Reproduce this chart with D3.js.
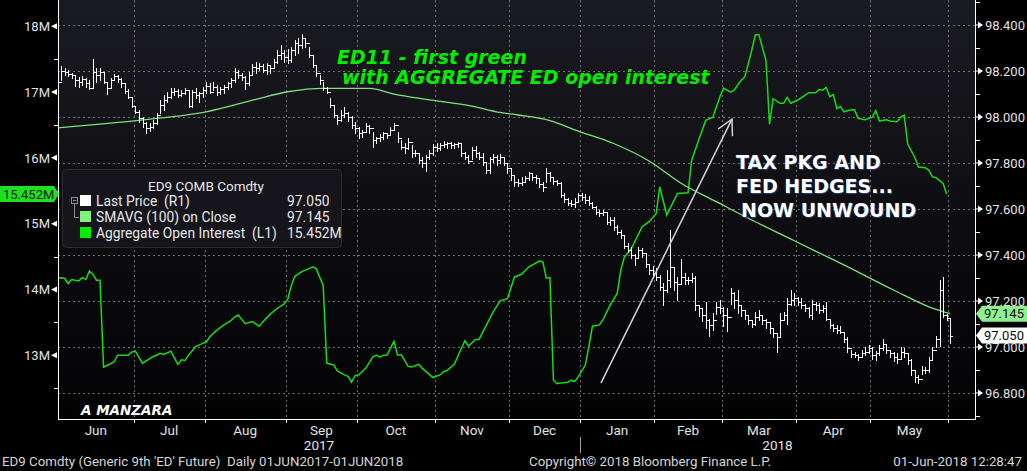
<!DOCTYPE html>
<html>
<head>
<meta charset="utf-8">
<script src="https://cdn.jsdelivr.net/npm/d3@7/dist/d3.min.js"></script>
<style>
  html, body { margin: 0; padding: 0; background: #000; }
  svg { display: block; font-family: Roboto, "Noto Sans", sans-serif; }
  text { white-space: pre; }
</style>
</head>
<body>
<svg id="chart" width="1027" height="471"></svg>
<script>
// trading days are numbered from 01JUN2017 (day 0) to 01JUN2018 (day 252)
var monthStart = [0, 22, 42, 65, 85, 107, 128, 148, 169, 188, 209, 230, 252];
var monthLabel = ["Jun", "Jul", "Aug", "Sep", "Oct", "Nov", "Dec", "Jan", "Feb", "Mar", "Apr", "May", "Jun"];
var yearStart = [0, 148];
var yearLabel = ["2017", "2018"];

// ED9 daily bars (R1), one value per trading day, month by month
var priceHigh = [
  98.164,98.222,98.212,98.204,98.193,98.183,98.173,98.178,98.168,98.161,98.251,98.212,98.212,98.193,98.146,98.168,98.187,98.183,98.168,98.149,98.120,98.088,
  98.048,98.030,98.001,97.980,97.972,97.987,98.016,98.074,98.096,98.110,98.125,98.125,98.120,98.117,98.125,98.117,98.117,98.125,98.110,98.129,
  98.154,98.149,98.154,98.139,98.129,98.139,98.154,98.168,98.212,98.204,98.193,98.178,98.197,98.231,98.241,98.236,98.231,98.236,98.226,98.251,98.291,98.313,98.291,
  98.294,98.306,98.335,98.342,98.361,98.342,98.306,98.265,98.226,98.183,98.154,98.129,98.081,98.048,98.009,98.030,98.042,98.023,98.004,97.980,
  97.955,97.943,97.972,97.965,97.936,97.914,97.926,97.936,97.929,97.958,97.972,97.936,97.900,97.885,97.911,97.878,97.856,97.845,97.827,97.835,97.856,97.883,
  97.885,97.888,97.897,97.893,97.893,97.888,97.893,97.885,97.849,97.835,97.871,97.874,97.849,97.842,97.801,97.827,97.839,97.835,97.839,97.827,97.798,
  97.777,97.748,97.729,97.740,97.743,97.762,97.755,97.748,97.733,97.719,97.777,97.762,97.740,97.726,97.719,97.668,97.646,97.639,97.646,97.671,
  97.671,97.665,97.656,97.632,97.613,97.598,97.596,97.588,97.564,97.566,97.530,97.511,97.487,97.453,97.433,97.404,97.433,97.429,97.410,97.363,97.352,
  97.342,97.313,97.279,97.337,97.509,97.349,97.305,97.381,97.320,97.305,97.320,97.308,97.182,97.168,97.197,97.124,97.146,97.197,97.204,
  97.175,97.168,97.255,97.240,97.247,97.182,97.158,97.139,97.117,97.153,97.160,97.139,97.124,97.105,97.081,97.059,97.146,97.153,97.211,97.247,97.233,
  97.218,97.211,97.189,97.172,97.204,97.197,97.193,97.182,97.197,97.117,97.102,97.095,97.091,97.066,97.042,96.986,96.979,96.969,96.986,96.998,97.008,
  96.998,96.984,97.008,97.033,97.008,96.989,96.979,96.972,97.001,96.994,96.969,96.946,96.899,96.878,96.917,96.914,96.958,97.001,97.050,97.291,97.303,97.143,
  97.120
];
var priceLow = [
  98.125,98.161,98.183,98.178,98.168,98.135,98.129,98.139,98.129,98.120,98.129,98.154,98.161,98.146,98.100,98.125,98.161,98.154,98.132,98.103,98.081,98.045,
  98.016,97.980,97.958,97.932,97.941,97.951,97.970,98.016,98.030,98.067,98.081,98.096,98.088,98.091,98.100,98.045,98.045,98.081,98.067,98.088,
  98.103,98.103,98.117,98.096,98.100,98.103,98.120,98.129,98.154,98.168,98.161,98.120,98.139,98.183,98.193,98.204,98.197,98.187,98.193,98.212,98.236,98.251,98.241,
  98.233,98.241,98.270,98.280,98.299,98.303,98.260,98.219,98.178,98.144,98.117,98.103,98.042,97.999,97.970,97.984,97.999,97.984,97.951,97.932,
  97.907,97.914,97.941,97.929,97.871,97.888,97.897,97.903,97.907,97.922,97.946,97.893,97.859,97.842,97.859,97.827,97.830,97.799,97.784,97.767,97.816,97.835,
  97.854,97.856,97.868,97.864,97.864,97.864,97.868,97.830,97.816,97.799,97.816,97.827,97.816,97.791,97.758,97.755,97.806,97.791,97.801,97.791,97.755,
  97.726,97.700,97.700,97.704,97.719,97.726,97.726,97.714,97.694,97.680,97.719,97.723,97.711,97.703,97.654,97.632,97.617,97.613,97.610,97.632,
  97.639,97.627,97.617,97.603,97.578,97.569,97.574,97.535,97.530,97.509,97.491,97.472,97.429,97.414,97.385,97.356,97.385,97.390,97.349,97.317,97.303,
  97.291,97.248,97.182,97.240,97.259,97.248,97.204,97.276,97.274,97.274,97.284,97.161,97.134,97.114,97.081,97.047,97.074,97.143,97.146,
  97.091,97.071,97.189,97.168,97.146,97.134,97.120,97.100,97.088,97.095,97.117,97.102,97.081,97.059,97.042,96.979,97.044,97.117,97.102,97.182,97.182,
  97.182,97.168,97.158,97.129,97.124,97.163,97.146,97.153,97.117,97.081,97.071,97.059,97.062,97.023,96.979,96.957,96.955,96.943,96.957,96.965,96.975,
  96.950,96.943,96.965,96.989,96.972,96.955,96.940,96.931,96.946,96.957,96.928,96.878,96.849,96.842,96.882,96.885,96.892,96.950,97.000,97.004,97.132,97.117,
  97.016
];
var priceClose = [
  98.154,98.202,98.197,98.187,98.183,98.161,98.154,98.164,98.146,98.125,98.197,98.183,98.197,98.154,98.125,98.161,98.178,98.164,98.146,98.115,98.088,98.048,
  98.023,97.994,97.972,97.951,97.958,97.972,98.009,98.052,98.074,98.088,98.110,98.115,98.096,98.103,98.117,98.048,98.110,98.096,98.103,98.117,
  98.135,98.110,98.132,98.110,98.120,98.129,98.146,98.161,98.197,98.183,98.173,98.146,98.183,98.219,98.212,98.222,98.204,98.226,98.212,98.241,98.270,98.277,98.260,
  98.248,98.291,98.321,98.313,98.342,98.321,98.270,98.226,98.190,98.161,98.125,98.110,98.052,98.009,97.987,98.009,98.016,98.001,97.965,97.951,
  97.929,97.936,97.961,97.951,97.900,97.907,97.914,97.929,97.922,97.943,97.965,97.907,97.871,97.864,97.893,97.842,97.845,97.813,97.799,97.827,97.845,97.871,
  97.864,97.878,97.883,97.885,97.878,97.883,97.885,97.842,97.827,97.810,97.856,97.842,97.827,97.806,97.769,97.816,97.827,97.813,97.827,97.801,97.777,
  97.748,97.719,97.714,97.719,97.733,97.755,97.740,97.733,97.711,97.697,97.755,97.740,97.723,97.714,97.661,97.642,97.627,97.624,97.632,97.661,
  97.654,97.639,97.627,97.610,97.588,97.581,97.588,97.545,97.552,97.523,97.501,97.487,97.439,97.424,97.400,97.385,97.421,97.407,97.361,97.334,97.320,
  97.305,97.262,97.248,97.291,97.349,97.284,97.276,97.305,97.291,97.291,97.298,97.182,97.168,97.139,97.117,97.095,97.117,97.175,97.168,
  97.139,97.131,97.233,97.204,97.182,97.160,97.139,97.117,97.100,97.131,97.139,97.117,97.110,97.081,97.059,97.044,97.117,97.139,97.189,97.204,97.211,
  97.197,97.182,97.168,97.139,97.189,97.182,97.160,97.168,97.124,97.095,97.081,97.073,97.066,97.037,96.994,96.969,96.965,96.957,96.975,96.979,96.994,
  96.965,96.972,96.994,97.015,96.986,96.972,96.957,96.950,96.979,96.972,96.943,96.899,96.870,96.863,96.899,96.899,96.943,96.986,97.035,97.248,97.139,97.125,
  97.050
];

// SMAVG (100) on close (R1): [trading day, value]
var smaPoints = [
  [0,97.953],[28,97.994],[42,98.023],[56,98.077],[65,98.110],[75,98.125],[88,98.125],[95,98.100],
  [104,98.077],[117,98.048],[125,98.020],[130,98.009],[139,97.985],[147,97.939],[157,97.885],
  [167,97.809],[176,97.712],[186,97.632],[195,97.560],[208,97.462],[222,97.357],[236,97.248],
  [246,97.175],[252,97.145]
];

// Aggregate open interest in millions (L1): [trading day, value]
var openInterest = [
  [0,14.18],[2,14.17],[3,14.09],[4,14.15],[6,14.13],[7,14.18],[8,14.15],[9,14.28],[10,14.23],[11,14.14],[12,14.14],
  [13,12.82],[15,12.87],[16,12.90],[17,13.00],[20,13.00],[21,13.05],[22,13.06],[24,12.88],[27,12.98],[28,13.00],
  [29,13.03],[30,13.01],[32,13.06],[33,12.96],[34,12.86],[35,12.93],[36,12.92],[37,13.00],[39,13.13],[41,13.18],
  [42,13.20],[43,13.28],[45,13.38],[47,13.46],[49,13.53],[50,13.58],[51,13.61],[53,13.48],[55,13.51],[57,13.44],
  [58,13.51],[60,13.62],[62,13.71],[64,13.78],[65,13.85],[66,14.06],[67,14.20],[69,14.27],[72,14.34],[73,14.32],
  [75,14.06],[76,12.88],[78,12.85],[79,12.76],[81,12.70],[82,12.68],[83,12.59],[84,12.69],[85,12.70],[87,12.80],
  [89,12.97],[90,13.00],[91,12.97],[92,13.00],[93,13.00],[95,13.21],[96,13.00],[97,13.01],[99,12.83],[100,12.82],
  [102,12.86],[103,12.80],[106,12.66],[108,12.70],[109,12.75],[110,12.77],[112,12.86],[115,13.22],[116,13.14],
  [118,13.24],[119,13.24],[123,13.66],[125,13.83],[127,13.86],[129,14.19],[131,14.23],[133,14.34],[136,14.43],
  [137,14.42],[138,14.17],[139,14.18],[140,12.62],[141,12.57],[144,12.59],[145,12.62],[146,12.60],[147,12.67],
  [149,12.85],[150,13.13],[151,13.44],[153,13.46],[154,13.54],[156,13.76],[158,13.94],[159,14.29],[160,14.49],
  [162,14.62],[165,14.95],[167,15.03],[169,15.15],[170,15.56],[172,15.13],[175,15.46],[178,15.47],[179,15.96],
  [181,16.27],[183,16.57],[185,16.62],[187,16.93],[188,17.06],[190,17.00],[191,17.03],[193,17.18],[194,17.23],
  [195,17.43],[196,17.64],[197,17.87],[198,17.87],[200,17.48],[201,16.51],[202,16.90],[204,16.83],[205,16.83],
  [206,16.92],[207,16.83],[209,16.88],[211,16.95],[212,16.99],[214,16.99],[215,17.04],[216,17.03],[217,17.07],
  [218,16.93],[219,16.96],[220,16.75],[221,16.78],[222,16.70],[224,16.73],[225,16.73],[226,16.60],[228,16.58],
  [230,16.62],[231,16.72],[232,16.56],[234,16.58],[235,16.56],[237,16.55],[238,16.62],[239,16.65],[240,16.21],
  [242,16.01],[243,15.86],[245,15.85],[246,15.81],[247,15.71],[248,15.70],[250,15.61],[251,15.452]
];

var leftTicks = [13, 14, 15, 16, 17, 18];
var rightTicks = [96.8, 97.0, 97.2, 97.4, 97.6, 97.8, 98.0, 98.2, 98.4];

// hand drawn arrow: [trading day, price]
var arrowFrom = [153.4, 96.843];
var arrowTo = [190.4, 97.991];

var plot = { left: 58, right: 975, top: 0, bottom: 419 };
var svg = d3.select("#chart");

var x = d3.scaleLinear().domain([0, 259]).range([57.5, 975]);
var yL = d3.scaleLinear().domain([12.03, 18.4]).range([plot.bottom, plot.top]);
var yR = d3.scaleLinear().domain([96.687, 98.509]).range([plot.bottom, plot.top]);

var defs = svg.append("defs");
var grad = defs.append("linearGradient").attr("id", "bg").attr("x1", 0).attr("y1", 0).attr("x2", 0).attr("y2", 1);
grad.append("stop").attr("offset", "0%").attr("stop-color", "#1a1a21");
grad.append("stop").attr("offset", "100%").attr("stop-color", "#020203");
defs.append("clipPath").attr("id", "clip").append("rect")
  .attr("x", plot.left).attr("y", plot.top)
  .attr("width", plot.right - plot.left).attr("height", plot.bottom - plot.top);
defs.append("marker").attr("id", "head").attr("viewBox", "-18 -10 20 20")
  .attr("markerWidth", 20).attr("markerHeight", 20).attr("markerUnits", "userSpaceOnUse")
  .attr("orient", "auto")
  .append("path").attr("d", "M-15,-8L0,0L-15,8").attr("fill", "none")
  .attr("stroke", "#d4d4d4").attr("stroke-width", 1.5);

svg.append("rect").attr("x", plot.left).attr("y", plot.top)
  .attr("width", plot.right - plot.left).attr("height", plot.bottom - plot.top)
  .attr("fill", "url(#bg)");

// grid
var grid = svg.append("g").attr("stroke", "#707070").attr("stroke-width", 1)
  .attr("stroke-dasharray", "2,3").attr("shape-rendering", "crispEdges");
grid.selectAll(".h").data(rightTicks).join("line").attr("class", "h")
  .attr("x1", plot.left).attr("x2", plot.right)
  .attr("y1", function(d) { return Math.round(yR(d)) + 0.5; })
  .attr("y2", function(d) { return Math.round(yR(d)) + 0.5; });
grid.selectAll(".v").data(monthStart.slice(1)).join("line").attr("class", "v")
  .attr("y1", plot.top).attr("y2", plot.bottom)
  .attr("x1", function(d) { return Math.round(x(d - 0.5)) + 0.5; })
  .attr("x2", function(d) { return Math.round(x(d - 0.5)) + 0.5; });

var clipped = svg.append("g").attr("clip-path", "url(#clip)");

// open interest
clipped.append("path").datum(openInterest)
  .attr("fill", "none").attr("stroke", "#16dc16").attr("stroke-width", 1.5)
  .attr("d", d3.line().x(function(d) { return x(d[0]); }).y(function(d) { return yL(d[1]); }));

// moving average
clipped.append("path").datum(smaPoints)
  .attr("fill", "none").attr("stroke", "#7ee07e").attr("stroke-width", 1.3)
  .attr("d", d3.line().curve(d3.curveMonotoneX).x(function(d) { return x(d[0]); }).y(function(d) { return yR(d[1]); }));

// price bars
var bars = clipped.append("g").attr("stroke", "#fff").attr("stroke-width", 1).attr("shape-rendering", "crispEdges");
var days = d3.range(priceClose.length);
function bx(i) { return Math.round(x(i)) + 0.5; }
bars.selectAll(".hl").data(days).join("line").attr("class", "hl")
  .attr("x1", bx).attr("x2", bx)
  .attr("y1", function(i) { return Math.round(yR(priceHigh[i])); })
  .attr("y2", function(i) { return Math.round(yR(priceLow[i])) + 1; });
bars.selectAll(".op").data(days.slice(1)).join("line").attr("class", "op")
  .attr("x1", function(i) { return bx(i) - 2; }).attr("x2", bx)
  .attr("y1", function(i) { return Math.round(yR(priceClose[i - 1])) + 0.5; })
  .attr("y2", function(i) { return Math.round(yR(priceClose[i - 1])) + 0.5; });
bars.selectAll(".cl").data(days).join("line").attr("class", "cl")
  .attr("x1", bx).attr("x2", function(i) { return bx(i) + 2; })
  .attr("y1", function(i) { return Math.round(yR(priceClose[i])) + 0.5; })
  .attr("y2", function(i) { return Math.round(yR(priceClose[i])) + 0.5; });

// axes
var ax = svg.append("g").attr("stroke", "#fff").attr("stroke-width", 1).attr("shape-rendering", "crispEdges");
ax.append("line").attr("x1", plot.left + 0.5).attr("x2", plot.left + 0.5).attr("y1", plot.top).attr("y2", plot.bottom + 1);
ax.append("line").attr("x1", plot.right + 0.5).attr("x2", plot.right + 0.5).attr("y1", plot.top).attr("y2", plot.bottom + 1);
ax.append("line").attr("x1", plot.left).attr("x2", plot.right + 1).attr("y1", plot.bottom + 0.5).attr("y2", plot.bottom + 0.5);

var leftMinor = d3.range(12.5, 18.5, 0.5).filter(function(v) { return v % 1 !== 0; });
ax.selectAll(".lm").data(leftMinor).join("line").attr("class", "lm")
  .attr("x1", plot.left - 4).attr("x2", plot.left)
  .attr("y1", function(d) { return Math.round(yL(d)) + 0.5; })
  .attr("y2", function(d) { return Math.round(yL(d)) + 0.5; });
var rightMinor = d3.range(96.7, 98.55, 0.2);
ax.selectAll(".rm").data(rightMinor).join("line").attr("class", "rm")
  .attr("x1", plot.right).attr("x2", plot.right + 5)
  .attr("y1", function(d) { return Math.round(yR(d)) + 0.5; })
  .attr("y2", function(d) { return Math.round(yR(d)) + 0.5; });
ax.selectAll(".bt").data(monthStart.slice(1)).join("line").attr("class", "bt")
  .attr("y1", plot.bottom).attr("y2", plot.bottom + 4)
  .attr("x1", function(d) { return Math.round(x(d - 0.5)) + 0.5; })
  .attr("x2", function(d) { return Math.round(x(d - 0.5)) + 0.5; });

// tick arrows
svg.append("g").attr("fill", "#fff").selectAll("path").data(leftTicks).join("path")
  .attr("d", function(d) { var y = yL(d); return "M51," + y + "L57," + (y - 3) + "L57," + (y + 3) + "Z"; });
svg.append("g").attr("fill", "#fff").selectAll("path").data(rightTicks).join("path")
  .attr("d", function(d) { var y = yR(d); return "M976," + (y - 0.5) + "L978," + (y - 0.5) + "L978," + (y - 3.5) + "L983," + y + "L978," + (y + 3.5) + "L978," + (y + 0.5) + "L976," + (y + 0.5) + "Z"; });

var labelColor = "#e2e2e2";
svg.append("g").attr("fill", labelColor).attr("font-size", 13).attr("text-anchor", "end")
  .selectAll("text").data(leftTicks).join("text")
  .attr("x", 50).attr("y", function(d) { return yL(d); }).attr("dy", "0.36em")
  .text(function(d) { return d + "M"; });
svg.append("g").attr("fill", labelColor).attr("font-size", 13)
  .selectAll("text").data(rightTicks).join("text")
  .attr("x", 985).attr("y", function(d) { return yR(d); }).attr("dy", "0.36em")
  .text(d3.format(".3f"));

// month and year labels
var monthSpans = monthLabel.slice(0, -1).map(function(m, k) {
  return { label: m, a: Math.max(plot.left, x(monthStart[k] - 0.5)), b: x(monthStart[k + 1] - 0.5) };
});
svg.append("g").attr("fill", labelColor).attr("font-size", 13.5).attr("text-anchor", "middle")
  .selectAll("text").data(monthSpans).join("text")
  .attr("x", function(d) { return (d.a + d.b) / 2; }).attr("y", 435).text(function(d) { return d.label; });
var yearSpans = yearLabel.map(function(yl, k) {
  var a = Math.max(plot.left, x(yearStart[k] - 0.5));
  var b = k + 1 < yearStart.length ? x(yearStart[k + 1] - 0.5) : plot.right;
  return { label: yl, a: a, b: b };
});
svg.append("g").attr("fill", labelColor).attr("font-size", 13.5).attr("text-anchor", "middle")
  .selectAll("text").data(yearSpans).join("text")
  .attr("x", function(d) { return (d.a + d.b) / 2; }).attr("y", 450).text(function(d) { return d.label; });
svg.append("g").attr("stroke", "#a0a0a0").attr("shape-rendering", "crispEdges")
  .selectAll("line").data(yearStart.slice(1)).join("line")
  .attr("x1", function(d) { return Math.round(x(d - 0.5)) + 0.5; })
  .attr("x2", function(d) { return Math.round(x(d - 0.5)) + 0.5; })
  .attr("y1", 437).attr("y2", 453);

// legend
var lastClose = priceClose[priceClose.length - 1];
var lastSma = smaPoints[smaPoints.length - 1][1];
var lastOi = openInterest[openInterest.length - 1][1];
var lg = svg.append("g");
lg.append("rect").attr("x", 62.5).attr("y", 169.5).attr("width", 279).attr("height", 78).attr("rx", 4)
  .attr("fill", "#15151b").attr("stroke", "#2c2c34");
lg.append("text").attr("x", 206).attr("y", 191).attr("text-anchor", "middle")
  .attr("fill", "#e8e8e8").attr("font-size", 13.5).text("ED9 COMB Comdty");
var legendRows = [
  { name: "Last Price  (R1)", value: d3.format(".3f")(lastClose), color: "#ffffff" },
  { name: "SMAVG (100) on Close", value: d3.format(".3f")(lastSma), color: "#80f080" },
  { name: "Aggregate Open Interest  (L1)", value: d3.format(".3f")(lastOi) + "M", color: "#00ee00" }
];
var rows = lg.selectAll(".row").data(legendRows).join("g").attr("class", "row")
  .attr("transform", function(d, k) { return "translate(0," + (206 + k * 16) + ")"; });
rows.append("rect").attr("x", 80).attr("y", -11).attr("width", 11).attr("height", 11)
  .attr("fill", function(d) { return d.color; });
rows.append("text").attr("x", 96).attr("fill", "#e8e8e8").attr("font-size", 13.8).text(function(d) { return d.name; });
rows.append("text").attr("x", 287).attr("fill", "#e8e8e8").attr("font-size", 13.8).text(function(d) { return d.value; });
lg.append("rect").attr("x", 71.5).attr("y", 197.5).attr("width", 6).attr("height", 6)
  .attr("fill", "none").attr("stroke", "#8a8a8a");
lg.append("path").attr("d", "M73,200.5H76.5M74.5,204V217.5H79").attr("fill", "none").attr("stroke", "#8a8a8a");

// current value tags
function tagLeft(y, fill, label) {
  var g = svg.append("g");
  g.append("path").attr("d", "M0," + (y - 8) + "H54L59," + y + "L54," + (y + 8) + "H0Z").attr("fill", fill);
  g.append("text").attr("x", 3).attr("y", y).attr("dy", "0.36em").attr("font-size", 13).attr("fill", "#0c1a0c").text(label);
}
function tagRight(y, fill, label) {
  var g = svg.append("g");
  g.append("path").attr("d", "M976," + y + "L982," + (y - 8) + "H1027V" + (y + 8) + "H982Z").attr("fill", fill);
  g.append("text").attr("x", 984).attr("y", y).attr("dy", "0.36em").attr("font-size", 13).attr("fill", "#0c0c0c").text(label);
}
tagLeft(yL(lastOi), "#1ee21e", d3.format(".3f")(lastOi) + "M");
tagRight(yR(lastSma), "#8ef08e", d3.format(".3f")(lastSma));
tagRight(yR(lastClose), "#ffffff", d3.format(".3f")(lastClose));

// annotations
var note = svg.append("g").attr("font-family", "'DejaVu Sans', Verdana, sans-serif").attr("font-weight", "bold");
note.append("text").attr("x", 337).attr("y", 63.5).attr("font-size", 19).attr("font-style", "italic")
  .attr("fill", "#00ee00").text("ED11 - first green");
note.append("text").attr("x", 342).attr("y", 83.5).attr("font-size", 19).attr("font-style", "italic")
  .attr("fill", "#00ee00").text("with AGGREGATE ED open interest");
var taxLines = [["TAX PKG AND", 736, 168.5], ["FED HEDGES...", 736, 192.5], ["NOW UNWOUND", 741, 216.5]];
note.selectAll(".sh").data(taxLines).join("text").attr("class", "sh")
  .attr("x", function(d) { return d[1] + 1; }).attr("y", function(d) { return d[2] + 1; })
  .attr("font-size", 19).attr("fill", "#24407a").text(function(d) { return d[0]; });
note.selectAll(".tx").data(taxLines).join("text").attr("class", "tx")
  .attr("x", function(d) { return d[1]; }).attr("y", function(d) { return d[2]; })
  .attr("font-size", 19).attr("fill", "#ffffff").text(function(d) { return d[0]; });
note.append("text").attr("x", 81).attr("y", 415).attr("font-size", 13.5).attr("font-style", "italic")
  .attr("fill", "#ffffff").text("A MANZARA");

svg.append("line")
  .attr("x1", x(arrowFrom[0])).attr("y1", yR(arrowFrom[1]))
  .attr("x2", x(arrowTo[0])).attr("y2", yR(arrowTo[1]))
  .attr("stroke", "#d4d4d4").attr("stroke-width", 1.5).attr("marker-end", "url(#head)");

// footer
var foot = svg.append("g").attr("fill", "#d6d6d6").attr("font-size", 13.3);
foot.append("text").attr("x", 2).attr("y", 466).text("ED9 Comdty (Generic 9th 'ED' Future)  Daily 01JUN2017-01JUN2018");
foot.append("text").attr("x", 529).attr("y", 466).text("Copyright\u00a9 2018 Bloomberg Finance L.P.");
foot.append("text").attr("x", 1022).attr("y", 466).attr("text-anchor", "end").text("01-Jun-2018 12:28:47");
</script>
</body>
</html>
